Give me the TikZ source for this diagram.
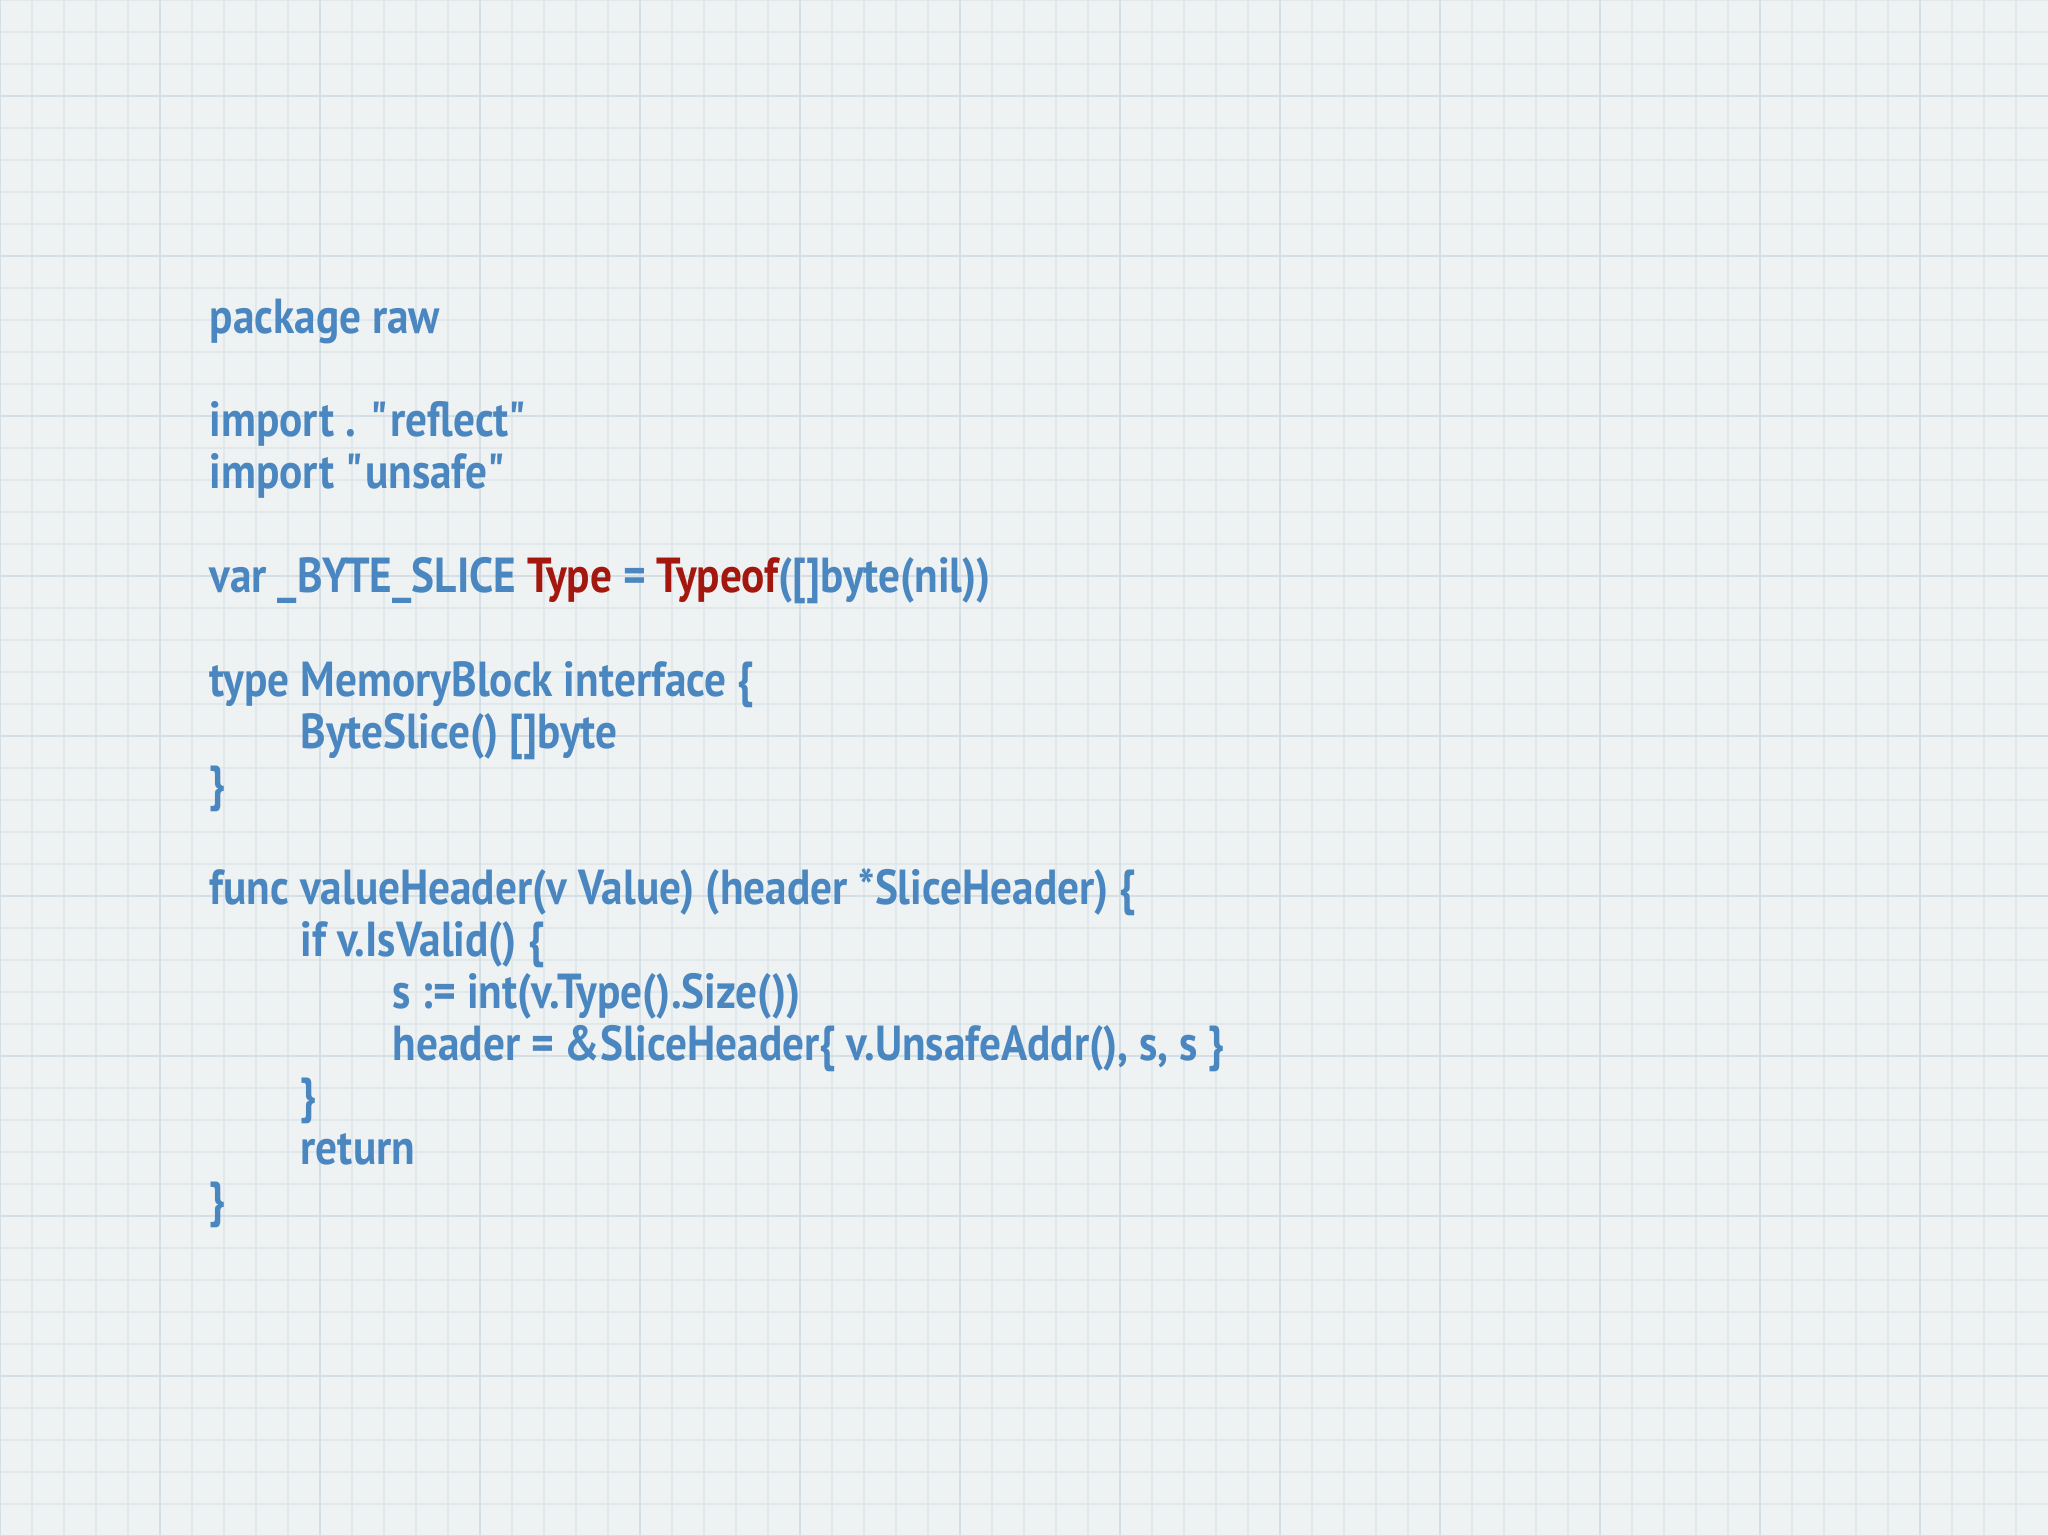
\documentclass[tikz,border=0pt]{standalone}
\usepackage{fontspec}
\setmainfont[FakeStretch=0.88]{PT Sans}
\definecolor{codeblue}{HTML}{4A86BF}
\definecolor{codered}{HTML}{A3170F}
\definecolor{paper}{HTML}{EFF2F3}
\definecolor{gridminor}{HTML}{E1E8EB}
\definecolor{gridmajor}{HTML}{D3DFE4}
\newcommand{\dq}{\textquotedbl}
\begin{document}
\begin{tikzpicture}[x=1cm,y=1cm,
  code/.style={anchor=base west,inner sep=0pt,text=codeblue,font=\fontsize{14}{16}\selectfont\bfseries}]
\fill[paper] (0,0) rectangle (20.48,15.36);
\useasboundingbox (0,0) rectangle (20.48,15.36);
\draw[gridminor,line width=0.4pt] (0,0) grid[step=0.32] (20.48,15.36);
\draw[gridmajor,line width=0.5pt] (0,0) grid[step=1.6] (20.48,15.36);
\def\L{2.09}\def\I{3.0}\def\J{3.92}
\node[code] (l1) at (\L,12.02) {package raw};
\node[code] (l2) at (\L,10.99) {import . \dq reflect\dq};
\node[code] (l3) at (\L,10.47) {import \dq unsafe\dq};
\node[code] (l4) at (\L,9.43) {var \_BYTE\_SLICE \textcolor{codered}{Type} = \textcolor{codered}{Typeof}([]byte(nil))};
\node[code] (l5) at (\L,8.39) {type MemoryBlock interface \{};
\node[code] (l6) at (\I,7.87) {ByteSlice() []byte};
\node[code] (l7) at (\L,7.35) {\}};
\node[code] (l8) at (\L,6.31) {func valueHeader(v Value) (header *SliceHeader) \{};
\node[code] (l9) at (\I,5.79) {if v.IsValid() \{};
\node[code] (l10) at (\J,5.27) {s := int(v.Type().Size())};
\node[code] (l11) at (\J,4.75) {header = \&SliceHeader\{ v.UnsafeAddr(), s, s \}};
\node[code] (l12) at (\I,4.23) {\}};
\node[code] (l13) at (\I,3.71) {return};
\node[code] (l14) at (\L,3.19) {\}};
\end{tikzpicture}
\end{document}
